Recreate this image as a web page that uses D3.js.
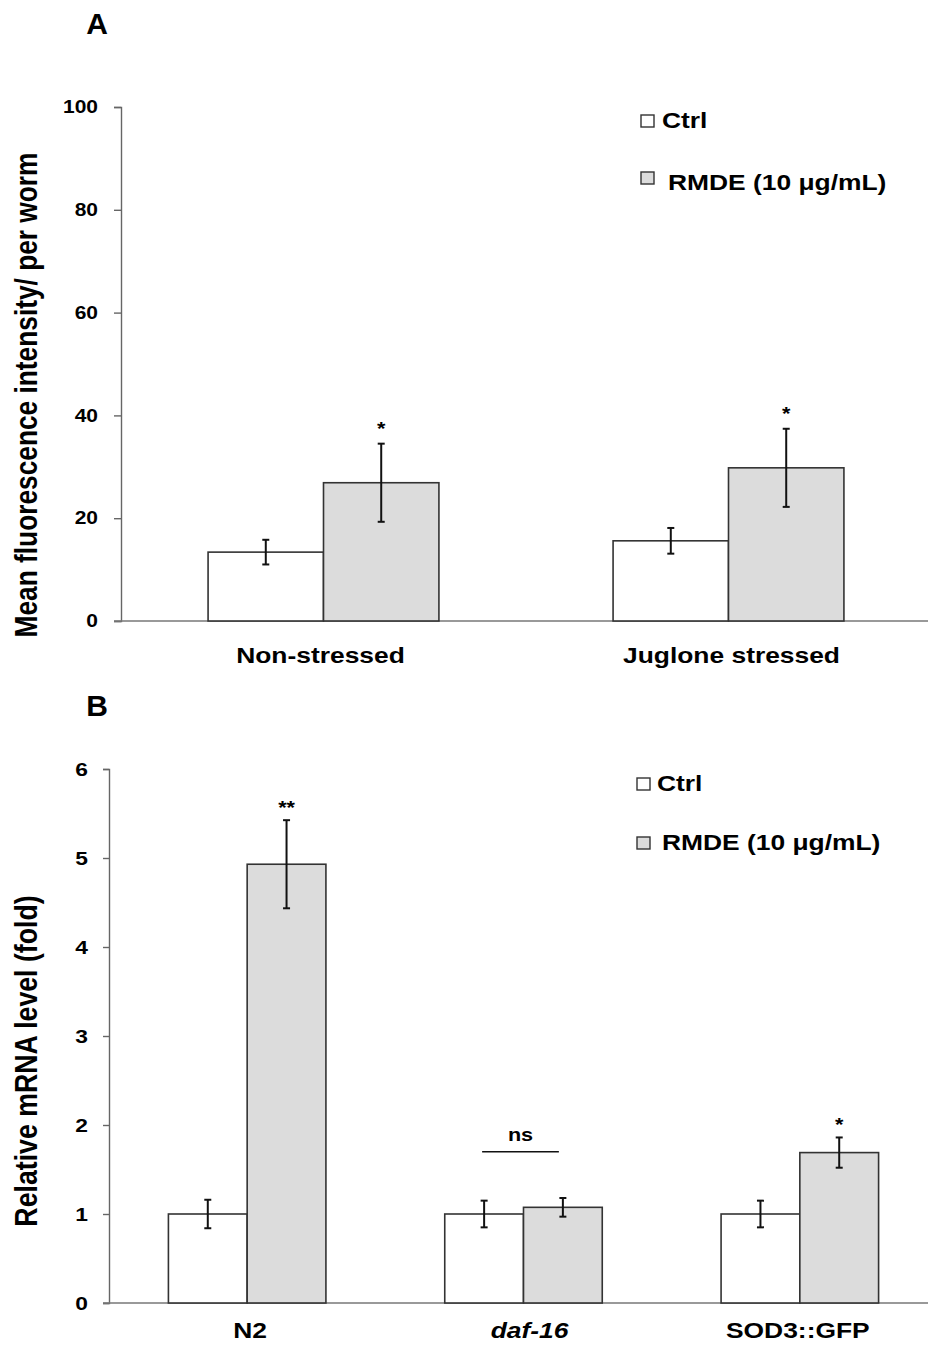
<!DOCTYPE html>
<html>
<head>
<meta charset="utf-8">
<script src="https://cdn.jsdelivr.net/npm/d3@7"></script>
<style>
  html, body { margin: 0; padding: 0; background: #fff; }
  svg { display: block; }
  text { font-family: "Liberation Sans", Arial, sans-serif; font-weight: bold; fill: #000; }
</style>
</head>
<body>
<script>
// ---------- Data ----------
const seriesNames = ["Ctrl", "RMDE (10 μg/mL)"];

// Panel A
const catsA = ["Non-stressed", "Juglone stressed"];
const ctrlA = [13.4, 15.6];
const ctrlAErr = [2.4, 2.5];
const rmdeA = [26.9, 29.8];
const rmdeAErr = [7.6, 7.6];
const sigA = ["*", "*"];
const ticksA = [0, 20, 40, 60, 80, 100];

// Panel B
const catsB = ["N2", "daf-16", "SOD3::GFP"];
const ctrlB = [1.0, 1.0, 1.0];
const ctrlBErr = [0.16, 0.15, 0.15];
const rmdeB = [4.93, 1.075, 1.69];
const rmdeBErr = [0.495, 0.105, 0.17];
const sigB = ["**", "", "*"];
const nsB = { cat: "daf-16", level: 1.70, label: "ns" };
const ticksB = [0, 1, 2, 3, 4, 5, 6];

// ---------- Layout ----------
const W = 928, H = 1345;
const SX = 1.2; // horizontal text stretch of the original figure
const fills = ["#ffffff", "#dcdcdc"];

const svg = d3.select("body").append("svg").attr("width", W).attr("height", H);
svg.append("rect").attr("width", W).attr("height", H).attr("fill", "#fff");

function stretchText(g, x, y, str, size, anchor, opts = {}) {
  const t = g.append("text")
    .attr("transform", `translate(${x},${y}) scale(${opts.sx ?? SX},1)`)
    .attr("text-anchor", anchor)
    .attr("font-size", size)
    .text(str);
  if (opts.italic) t.attr("font-style", "italic");
  return t;
}

function panel(cfg) {
  const g = svg.append("g");
  const x0 = d3.scaleBand().domain(cfg.cats).range(cfg.xRange)
    .paddingInner(0.43).paddingOuter(0.215);
  const x1 = d3.scaleBand().domain([0, 1]).range([0, x0.bandwidth()]);
  const y = d3.scaleLinear().domain(cfg.yDomain).range(cfg.yRange);
  const axX = cfg.xRange[0];

  // y axis
  const yAxis = d3.axisLeft(y).tickValues(cfg.ticks).tickFormat(d3.format("d"))
    .tickSize(cfg.tickSize).tickSizeOuter(cfg.tickSize).tickPadding(cfg.tickPad);
  const ag = g.append("g").attr("transform", `translate(${axX},0)`).call(yAxis);
  ag.select(".domain").attr("stroke", "#666").attr("stroke-width", 1.4);
  ag.selectAll(".tick line").attr("stroke", "#666").attr("stroke-width", 1.4);
  ag.selectAll(".tick text")
    .attr("font-family", "Liberation Sans, Arial, sans-serif")
    .attr("font-weight", "bold")
    .attr("font-size", cfg.tickFont)
    .attr("fill", "#000")
    .each(function () {
      const t = d3.select(this);
      const xx = +t.attr("x");
      t.attr("x", 0).attr("transform", `translate(${xx},0) scale(${SX},1)`);
    });

  // x baseline
  g.append("line")
    .attr("x1", axX - cfg.tickSize).attr("x2", W)
    .attr("y1", y(0)).attr("y2", y(0))
    .attr("stroke", "#777").attr("stroke-width", 1.6);

  // bars
  const rows = cfg.cats.map((c, i) => ({
    cat: c,
    vals: [
      { s: 0, v: cfg.ctrl[i], e: cfg.ctrlErr[i] },
      { s: 1, v: cfg.rmde[i], e: cfg.rmdeErr[i] }
    ],
    sig: cfg.sig[i]
  }));
  const grp = g.selectAll(".grp").data(rows).join("g")
    .attr("transform", d => `translate(${x0(d.cat)},0)`);
  grp.selectAll("rect").data(d => d.vals).join("rect")
    .attr("x", d => x1(d.s))
    .attr("width", x1.bandwidth())
    .attr("y", d => y(d.v))
    .attr("height", d => y(0) - y(d.v))
    .attr("fill", d => fills[d.s])
    .attr("stroke", "#333").attr("stroke-width", 1.6);
  // error bars
  const eb = grp.selectAll(".eb").data(d => d.vals).join("g")
    .attr("transform", d => `translate(${x1(d.s) + x1.bandwidth() / 2},0)`);
  eb.append("line").attr("y1", d => y(d.v + d.e)).attr("y2", d => y(d.v - d.e))
    .attr("stroke", "#111").attr("stroke-width", 2);
  eb.append("line").attr("x1", -3.5).attr("x2", 3.5)
    .attr("y1", d => y(d.v + d.e)).attr("y2", d => y(d.v + d.e))
    .attr("stroke", "#111").attr("stroke-width", 2);
  eb.append("line").attr("x1", -3.5).attr("x2", 3.5)
    .attr("y1", d => y(d.v - d.e)).attr("y2", d => y(d.v - d.e))
    .attr("stroke", "#111").attr("stroke-width", 2);
  // significance marks
  rows.forEach(r => {
    if (!r.sig) return;
    const d = r.vals[1];
    stretchText(g, x0(r.cat) + x1(1) + x1.bandwidth() / 2, y(d.v + d.e) - cfg.sigGap, r.sig, 18, "middle");
  });

  // x labels
  cfg.cats.forEach((c, i) => {
    const shift = cfg.labelShifts ? cfg.labelShifts[i] : 0;
    stretchText(g, x0(c) + x0.bandwidth() / 2 + shift, cfg.xLabelY, c, 22, "middle",
      { italic: cfg.italicCats && cfg.italicCats.includes(c) });
  });

  // y label
  g.append("text")
    .attr("transform", `translate(${cfg.yLabelX},${cfg.yLabelCY}) rotate(-90) scale(1,${SX})`)
    .attr("text-anchor", "middle")
    .attr("font-size", cfg.yLabelFont)
    .text(cfg.yLabel);

  // panel letter
  g.append("text").attr("x", cfg.letterX).attr("y", cfg.letterY)
    .attr("text-anchor", "middle").attr("font-size", 30).text(cfg.letter);

  // legend
  cfg.legend.forEach((L, i) => {
    g.append("rect").attr("x", L.sx).attr("y", L.sy).attr("width", 13).attr("height", 12)
      .attr("fill", fills[i]).attr("stroke", "#333").attr("stroke-width", 1.4);
    stretchText(g, L.tx, L.ty, seriesNames[i], 22, "start");
  });

  return { g, x0, x1, y };
}

// Panel A
panel({
  cats: catsA, ctrl: ctrlA, ctrlErr: ctrlAErr, rmde: rmdeA, rmdeErr: rmdeAErr, sig: sigA,
  xRange: [121, 931], yDomain: [0, 100], yRange: [621, 107], ticks: ticksA,
  tickSize: 7, tickPad: 16, tickFont: 17.5, sigGap: 9,
  xLabelY: 663, labelShifts: [-3, 3],
  yLabel: "Mean fluorescence intensity/ per worm", yLabelX: 37, yLabelCY: 395, yLabelFont: 26.3,
  letter: "A", letterX: 97, letterY: 34,
  legend: [
    { sx: 641, sy: 115, tx: 662, ty: 128 },
    { sx: 641, sy: 172, tx: 668, ty: 190 }
  ]
});

// Panel B
const pB = panel({
  cats: catsB, ctrl: ctrlB, ctrlErr: ctrlBErr, rmde: rmdeB, rmdeErr: rmdeBErr, sig: sigB,
  xRange: [109, 938], yDomain: [0, 6], yRange: [1303, 769], ticks: ticksB,
  tickSize: 6, tickPad: 15, tickFont: 19, sigGap: 6,
  xLabelY: 1338, labelShifts: [3, 6, -2], italicCats: ["daf-16"],
  yLabel: "Relative mRNA level (fold)", yLabelX: 37, yLabelCY: 1061, yLabelFont: 26.7,
  letter: "B", letterX: 97, letterY: 716,
  legend: [
    { sx: 637, sy: 778, tx: 657, ty: 791 },
    { sx: 637, sy: 837, tx: 662, ty: 850 }
  ]
});

// "ns" bracket for daf-16
{
  const { g, x0, x1, y } = pB;
  const xa = x0(nsB.cat) + x1(0) + x1.bandwidth() / 2 - 2;
  const xb = x0(nsB.cat) + x1(1) + x1.bandwidth() / 2 - 4;
  g.append("line").attr("x1", xa).attr("x2", xb)
    .attr("y1", y(nsB.level)).attr("y2", y(nsB.level))
    .attr("stroke", "#111").attr("stroke-width", 1.6);
  stretchText(g, (xa + xb) / 2, y(nsB.level) - 10.5, nsB.label, 18, "middle");
}
</script>
</body>
</html>
